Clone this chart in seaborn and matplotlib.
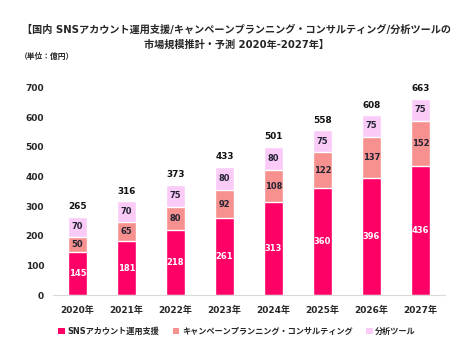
import matplotlib
matplotlib.use('Agg')
import matplotlib.pyplot as plt
from matplotlib.patches import Patch
import pandas as pd
import seaborn as sns

# chart data (億円)
years = ['2020年', '2021年', '2022年', '2023年', '2024年', '2025年', '2026年', '2027年']
sns_support = [145, 181, 218, 261, 313, 360, 396, 436]
campaign = [50, 65, 80, 92, 108, 122, 137, 152]
tools = [70, 70, 75, 80, 80, 75, 75, 75]
totals = [265, 316, 373, 433, 501, 558, 608, 663]
yticks = [0, 100, 200, 300, 400, 500, 600, 700]

series_names = ['SNSアカウント運用支援', 'キャンペーンプランニング・コンサルティング', '分析ツール']
colors = ['#FF0066', '#F6918F', '#FBCBF8']

sns.set_theme(style='white')
plt.rcParams['font.family'] = ['DejaVu Sans', 'Noto Sans CJK JP']
plt.rcParams['font.weight'] = 'bold'

df = pd.DataFrame({'year': years, 'sns': sns_support, 'campaign': campaign, 'tools': tools})
df['mid'] = df['sns'] + df['campaign']
df['top'] = df['mid'] + df['tools']

fig = plt.figure(figsize=(4.74, 3.56), dpi=100)
ax = fig.add_axes([0.112, 0.171, 0.827, 0.583])

# layered bars: full stack first, then smaller stacks on top
sns.barplot(data=df, x='year', y='top', color=colors[2], width=0.4, saturation=1, ax=ax)
sns.barplot(data=df, x='year', y='mid', color=colors[1], width=0.4, saturation=1, ax=ax)
sns.barplot(data=df, x='year', y='sns', color=colors[0], width=0.4, saturation=1, ax=ax)

for i, row in df.iterrows():
    ax.text(i, row['sns'] / 2, str(row['sns']), ha='center', va='center',
            color='white', fontsize=6, fontweight='bold')
    ax.text(i, row['sns'] + row['campaign'] / 2, str(row['campaign']), ha='center',
            va='center', color='#222233', fontsize=6, fontweight='bold')
    ax.text(i, row['mid'] + row['tools'] / 2, str(row['tools']), ha='center',
            va='center', color='#222233', fontsize=6, fontweight='bold')
    ax.text(i, row['top'] + 18, str(totals[i]), ha='center', va='bottom',
            color='#111111', fontsize=6.4, fontweight='bold', clip_on=False)

ax.set_ylim(0, 700)
ax.set_xlim(-0.5, len(years) - 0.5)
ax.set_yticks(yticks)
ax.set_yticklabels([str(v) for v in yticks], fontsize=6.5, fontweight='bold')
ax.set_xticks(range(len(years)))
ax.set_xticklabels(years, fontsize=6.5, fontweight='bold')
ax.tick_params(axis='y', pad=6.5, length=0)
ax.tick_params(axis='x', pad=8, length=0)
ax.set_xlabel('')
ax.set_ylabel('')
for side in ['top', 'right', 'left']:
    ax.spines[side].set_visible(False)
ax.spines['bottom'].set_color('#D9D9D9')
ax.spines['bottom'].set_linewidth(0.8)

fig.text(0.5, 0.895, '【国内 SNSアカウント運用支援/キャンペーンプランニング・コンサルティング/分析ツールの\n市場規模推計・予測 2020年-2027年】',
         ha='center', va='center', fontsize=7.3, fontweight='bold', linespacing=1.55)
fig.text(0.042, 0.84, '（単位：億円）', ha='left', va='center', fontsize=5.6, fontweight='bold')

handles = [Patch(facecolor=c, edgecolor='none') for c in colors]
fig.legend(handles, series_names, loc='center', bbox_to_anchor=(0.5, 0.07), ncol=3,
           frameon=False, fontsize=5.9, handlelength=0.8, handleheight=0.8,
           handletextpad=0.3, columnspacing=1.7)

fig.savefig('out.png', dpi=100, facecolor='white')
